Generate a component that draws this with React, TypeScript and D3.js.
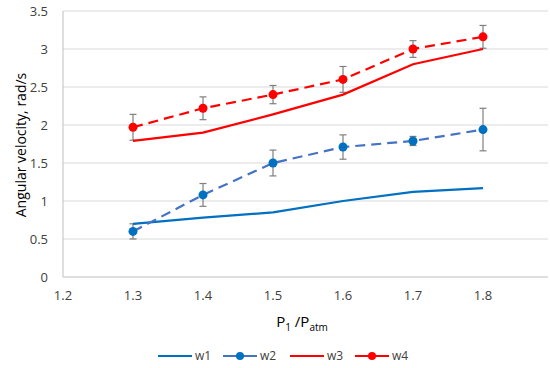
import React, { useRef, useEffect } from 'react';
import * as d3 from 'd3';

const xs = [1.3, 1.4, 1.5, 1.6, 1.7, 1.8];
const w1 = [0.7, 0.78, 0.85, 1.0, 1.12, 1.17];
const w2 = [0.6, 1.08, 1.5, 1.71, 1.79, 1.94];
const w2Err = [0.1, 0.15, 0.17, 0.16, 0.06, 0.28];
const w3 = [1.79, 1.9, 2.14, 2.4, 2.8, 3.0];
const w4 = [1.97, 2.22, 2.4, 2.6, 3.0, 3.16];
const w4Err = [0.17, 0.15, 0.12, 0.17, 0.11, 0.15];
const xTicks = [1.2, 1.3, 1.4, 1.5, 1.6, 1.7, 1.8];
const yTicks = [0, 0.5, 1, 1.5, 2, 2.5, 3, 3.5];

const font = 'Open Sans, sans-serif';

function App() {
  const svgRef = useRef<SVGSVGElement>(null);
  const width = 550;
  const height = 368;

  useEffect(() => {
    const svg = d3.select(svgRef.current);
    svg.selectAll('*').remove();

    const x = d3.scaleLinear().domain([1.2, 1.9]).range([63, 553]);
    const y = d3.scaleLinear().domain([0, 3.5]).range([277, 11]);

    // gridlines
    svg
      .selectAll('.grid')
      .data(yTicks.slice(1))
      .enter()
      .append('line')
      .attr('x1', x(1.2))
      .attr('x2', 548)
      .attr('y1', (d) => y(d))
      .attr('y2', (d) => y(d))
      .attr('stroke', '#d9d9d9')
      .attr('stroke-width', 1);

    // axes lines
    svg.append('line').attr('x1', x(1.2)).attr('x2', x(1.2)).attr('y1', y(3.5)).attr('y2', y(0)).attr('stroke', '#bfbfbf');
    svg.append('line').attr('x1', x(1.2)).attr('x2', 548).attr('y1', y(0)).attr('y2', y(0)).attr('stroke', '#bfbfbf');

    // tick labels
    svg
      .selectAll('.ytick')
      .data(yTicks)
      .enter()
      .append('text')
      .attr('x', 48)
      .attr('y', (d) => y(d))
      .attr('dy', '0.35em')
      .attr('text-anchor', 'end')
      .attr('font-family', font)
      .attr('font-size', '13px')
      .attr('fill', '#404040')
      .text((d) => String(d));

    svg
      .selectAll('.xtick')
      .data(xTicks)
      .enter()
      .append('text')
      .attr('x', (d) => x(d))
      .attr('y', 300)
      .attr('text-anchor', 'middle')
      .attr('font-family', font)
      .attr('font-size', '13px')
      .attr('fill', '#404040')
      .text((d) => d.toFixed(1));

    // axis titles
    svg
      .append('text')
      .attr('transform', `translate(26,145) rotate(-90)`)
      .attr('text-anchor', 'middle')
      .attr('font-family', font)
      .attr('font-size', '14px')
      .attr('fill', '#000')
      .text('Angular velocity, rad/s');

    const xt = svg
      .append('text')
      .attr('x', 302)
      .attr('y', 327)
      .attr('text-anchor', 'middle')
      .attr('font-family', font)
      .attr('font-size', '15px')
      .attr('fill', '#000');
    xt.append('tspan').text('P');
    xt.append('tspan').attr('font-size', '10px').attr('dy', 4).text('1');
    xt.append('tspan').attr('dy', -4).text(' /P');
    xt.append('tspan').attr('font-size', '10px').attr('dy', 4).text('atm');

    const line = d3
      .line<number>()
      .x((_, i) => x(xs[i]))
      .y((d) => y(d));

    // error bars
    const errBars = (vals: number[], errs: number[]) => {
      const g = svg.append('g').attr('stroke', '#7f7f7f').attr('stroke-width', 1.2);
      vals.forEach((v, i) => {
        const cx = x(xs[i]);
        g.append('line').attr('x1', cx).attr('x2', cx).attr('y1', y(v - errs[i])).attr('y2', y(v + errs[i]));
        g.append('line').attr('x1', cx - 3.5).attr('x2', cx + 3.5).attr('y1', y(v - errs[i])).attr('y2', y(v - errs[i]));
        g.append('line').attr('x1', cx - 3.5).attr('x2', cx + 3.5).attr('y1', y(v + errs[i])).attr('y2', y(v + errs[i]));
      });
    };

    const series = [
      { data: w1, color: '#0070c0', dash: null, marker: false, err: null, mcolor: '#0070c0' },
      { data: w2, color: '#4472c4', dash: '10,6', marker: true, err: w2Err, mcolor: '#0070c0' },
      { data: w3, color: '#ff0000', dash: null, marker: false, err: null, mcolor: '#ff0000' },
      { data: w4, color: '#ff0000', dash: '10,6', marker: true, err: w4Err, mcolor: '#ff0000' },
    ];

    series.forEach((s) => {
      if (s.err) errBars(s.data, s.err);
    });

    series.forEach((s) => {
      svg
        .append('path')
        .datum(s.data)
        .attr('d', line)
        .attr('fill', 'none')
        .attr('stroke', s.color)
        .attr('stroke-width', 2.2)
        .attr('stroke-dasharray', s.dash);
      if (s.marker) {
        svg
          .selectAll(null)
          .data(s.data)
          .enter()
          .append('circle')
          .attr('cx', (_, i) => x(xs[i]))
          .attr('cy', (d) => y(d))
          .attr('r', 4.5)
          .attr('fill', s.mcolor);
      }
    });

    // legend
    const legend = [
      { name: 'w1', x0: 158, ...series[0] },
      { name: 'w2', x0: 223, ...series[1] },
      { name: 'w3', x0: 290, ...series[2] },
      { name: 'w4', x0: 355, ...series[3] },
    ];
    const ly = 356;
    legend.forEach((l) => {
      svg
        .append('line')
        .attr('x1', l.x0)
        .attr('x2', l.x0 + 34)
        .attr('y1', ly)
        .attr('y2', ly)
        .attr('stroke', l.color)
        .attr('stroke-width', 2.2);
      if (l.marker) {
        svg.append('circle').attr('cx', l.x0 + 17).attr('cy', ly).attr('r', 4).attr('fill', l.mcolor);
      }
      svg
        .append('text')
        .attr('x', l.x0 + 37)
        .attr('y', ly)
        .attr('dy', '0.35em')
        .attr('font-family', font)
        .attr('font-size', '12px')
        .attr('fill', '#404040')
        .text(l.name);
    });
  }, []);

  return (
    <svg
      ref={svgRef}
      width={width}
      height={height}
      style={{ position: 'absolute', left: 0, top: 0, background: '#fff' }}
    ></svg>
  );
}

export default App;
